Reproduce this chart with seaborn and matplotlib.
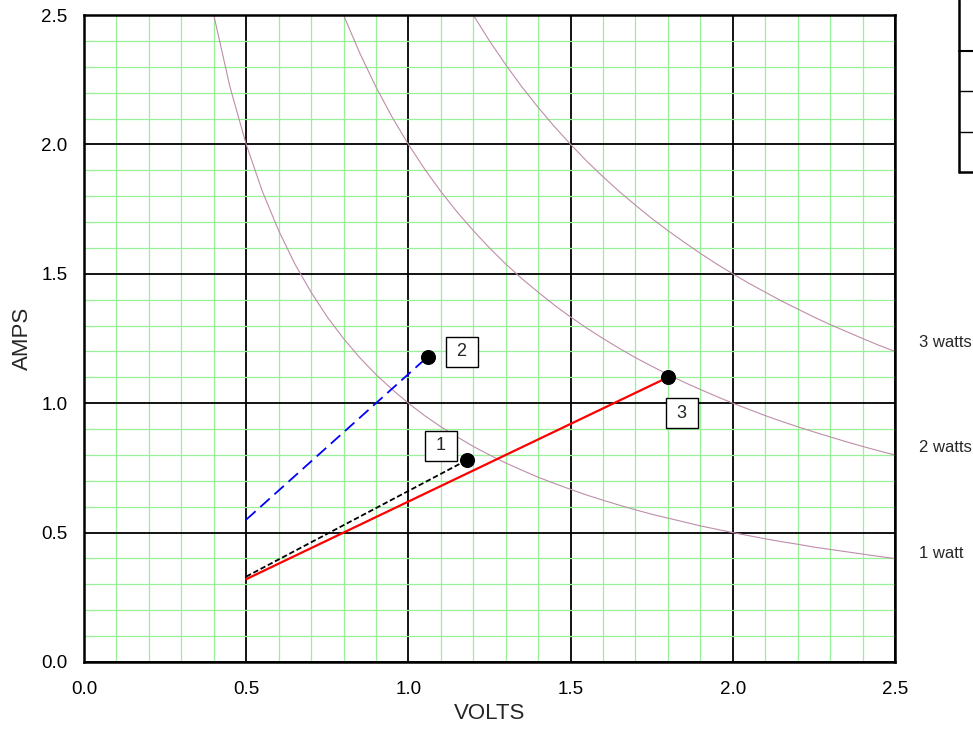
import matplotlib
matplotlib.use("Agg")
import matplotlib.pyplot as plt
import seaborn as sns
from matplotlib.lines import Line2D

# ---- data ----
volts_1w = [0.40, 0.45, 0.50, 0.55, 0.60, 0.65, 0.70, 0.75, 0.80, 0.85, 0.90, 0.95, 1.00, 1.05, 1.10, 1.15, 1.20,
            1.25, 1.30, 1.35, 1.40, 1.45, 1.50, 1.55, 1.60, 1.65, 1.70, 1.75, 1.80, 1.85, 1.90, 1.95, 2.00,
            2.05, 2.10, 2.15, 2.20, 2.25, 2.30, 2.35, 2.40, 2.45, 2.50]
amps_1w = [2.500, 2.222, 2.000, 1.818, 1.667, 1.538, 1.429, 1.333, 1.250, 1.176, 1.111, 1.053, 1.000, 0.952,
           0.909, 0.870, 0.833, 0.800, 0.769, 0.741, 0.714, 0.690, 0.667, 0.645, 0.625, 0.606, 0.588, 0.571,
           0.556, 0.541, 0.526, 0.513, 0.500, 0.488, 0.476, 0.465, 0.455, 0.444, 0.435, 0.426, 0.417, 0.408, 0.400]
volts_2w = [0.80, 0.85, 0.90, 0.95, 1.00, 1.05, 1.10, 1.15, 1.20, 1.25, 1.30, 1.35, 1.40, 1.45, 1.50, 1.55,
            1.60, 1.65, 1.70, 1.75, 1.80, 1.85, 1.90, 1.95, 2.00, 2.05, 2.10, 2.15, 2.20, 2.25, 2.30, 2.35,
            2.40, 2.45, 2.50]
amps_2w = [2.500, 2.353, 2.222, 2.105, 2.000, 1.905, 1.818, 1.739, 1.667, 1.600, 1.538, 1.481, 1.429, 1.379,
           1.333, 1.290, 1.250, 1.212, 1.176, 1.143, 1.111, 1.081, 1.053, 1.026, 1.000, 0.976, 0.952, 0.930,
           0.909, 0.889, 0.870, 0.851, 0.833, 0.816, 0.800]
volts_3w = [1.20, 1.25, 1.30, 1.35, 1.40, 1.45, 1.50, 1.55, 1.60, 1.65, 1.70, 1.75, 1.80, 1.85, 1.90, 1.95,
            2.00, 2.05, 2.10, 2.15, 2.20, 2.25, 2.30, 2.35, 2.40, 2.45, 2.50]
amps_3w = [2.500, 2.400, 2.308, 2.222, 2.143, 2.069, 2.000, 1.935, 1.875, 1.818, 1.765, 1.714, 1.667, 1.622,
           1.579, 1.538, 1.500, 1.463, 1.429, 1.395, 1.364, 1.333, 1.304, 1.277, 1.250, 1.224, 1.200]

curve_labels = ["1 watt", "2 watts", "3 watts"]
curve_label_y = [0.42, 0.83, 1.235]

line1_v = [0.5, 1.18]
line1_a = [0.33, 0.78]
line2_v = [0.5, 1.06]
line2_a = [0.55, 1.18]
line3_v = [0.5, 1.80]
line3_a = [0.32, 1.10]

point_v = [1.18, 1.06, 1.80]
point_a = [0.78, 1.18, 1.10]
point_labels = ["1", "2", "3"]
point_label_v = [1.10, 1.165, 1.843]
point_label_a = [0.835, 1.198, 0.962]

ticks = [0.0, 0.5, 1.0, 1.5, 2.0, 2.5]
tick_labels = ["0.0", "0.5", "1.0", "1.5", "2.0", "2.5"]

# ---- style ----
sns.set_style("white")
plt.rcParams["font.family"] = ["Liberation Sans", "DejaVu Sans"]

fig = plt.figure(figsize=(9.73, 7.30), dpi=100)
ax = fig.add_axes([84 / 973, 1 - 662 / 730, (895 - 84) / 973, (662 - 15) / 730])

ax.set_xlim(0, 2.5)
ax.set_ylim(0, 2.5)
ax.set_xticks(ticks)
ax.set_xticklabels(tick_labels)
ax.set_yticks(ticks)
ax.set_yticklabels(tick_labels)
ax.set_xticks([i / 10 for i in range(26)], minor=True)
ax.set_yticks([i / 10 for i in range(26)], minor=True)
ax.grid(which="minor", color="#99F099", linewidth=0.9, zorder=0)
ax.grid(which="major", color="black", linewidth=1.3, zorder=0.5)
ax.set_axisbelow(True)
ax.tick_params(which="minor", length=0)
ax.tick_params(which="major", direction="out", length=4, width=1.2, color="black",
               labelsize=13.5, colors="black")
ax.tick_params(axis="x", pad=10)
ax.tick_params(axis="y", pad=8)
for s in ax.spines.values():
    s.set_visible(True)
    s.set_color("black")
    s.set_linewidth(1.8)

# power curves
curve_color = "#BF8DAA"
for v, a in [(volts_1w, amps_1w), (volts_2w, amps_2w), (volts_3w, amps_3w)]:
    sns.lineplot(x=v, y=a, ax=ax, color=curve_color, linewidth=0.8, sort=False, zorder=2)

for lab, yv in zip(curve_labels, curve_label_y):
    ax.text(2.574, yv, lab, fontsize=12, ha="left", va="center", clip_on=False)

# load lines
sns.lineplot(x=line3_v, y=line3_a, ax=ax, color="#FF0000", linewidth=1.6, zorder=3)
l2 = sns.lineplot(x=line2_v, y=line2_a, ax=ax, color="#0000FF", linewidth=1.3, zorder=3).lines[-1]
l2.set_dashes([7, 3.5])
l1 = sns.lineplot(x=line1_v, y=line1_a, ax=ax, color="black", linewidth=1.3, zorder=3).lines[-1]
l1.set_dashes([3, 1.5])

# points
sns.scatterplot(x=point_v, y=point_a, ax=ax, color="black", s=100, edgecolor="black", zorder=4)

for lab, xv, yv in zip(point_labels, point_label_v, point_label_a):
    ax.text(xv, yv, " " + lab + " ", fontsize=13, ha="center", va="center", zorder=5,
            bbox=dict(boxstyle="square,pad=0.34", facecolor="white", edgecolor="black", linewidth=1.0))

ax.set_xlabel("VOLTS", fontsize=16, labelpad=3)
ax.set_ylabel("AMPS", fontsize=16, labelpad=6)

# partial table at top right (clipped by figure edge)
def fl(x0, y0, x1, y1, lw):
    fig.add_artist(Line2D([x0 / 973, x1 / 973], [1 - y0 / 730, 1 - y1 / 730],
                          color="black", linewidth=lw, transform=fig.transFigure))

fl(959, 0, 959, 172, 1.8)
fl(959, 51, 980, 51, 1.5)
fl(959, 91, 980, 91, 1.0)
fl(959, 132, 980, 132, 1.0)
fl(959, 172, 980, 172, 1.8)

fig.savefig("out.png", dpi=100)
